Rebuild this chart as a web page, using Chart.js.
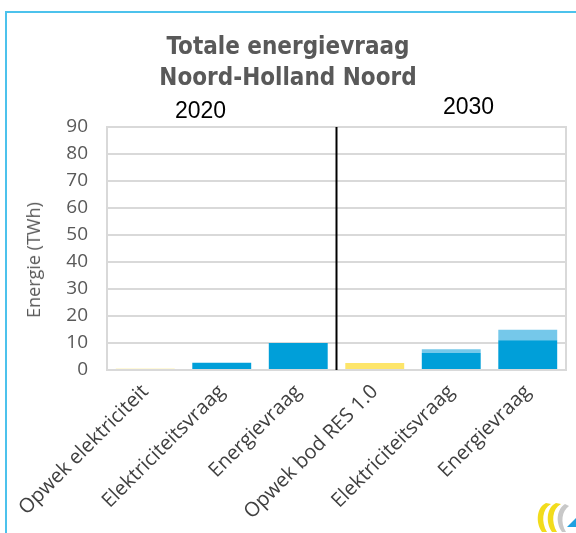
<!DOCTYPE html>
<html>
<head>
<meta charset="utf-8">
<script src="https://cdn.jsdelivr.net/npm/chart.js@4.4.0/dist/chart.umd.min.js"></script>
<style>
html, body { margin: 0; padding: 0; background: #fff; }
#wrap { position: relative; width: 576px; height: 533px; overflow: hidden; }
#frame { position: absolute; left: 5px; top: 11px; width: 620px; height: 620px; border-left: 2px solid #4cc2ec; border-top: 2px solid #4cc2ec; }
.title { position: absolute; left: 0; width: 576px; text-align: center; font-family: "DejaVu Sans Condensed", "DejaVu Sans"; font-weight: bold; font-size: 24px; color: #595959; line-height: 31px; }
.year { position: absolute; font-family: "Liberation Sans"; font-size: 23px; color: #000; line-height: 23px; }
#ytitle { position: absolute; left: 33px; top: 260px; transform: translate(-50%, -50%) rotate(-90deg); white-space: nowrap; font-family: "Open Sans"; font-size: 18px; color: #595959; }
#logo { position: absolute; left: 532px; top: 500px; }
canvas { position: absolute; left: 0; top: 0; }
</style>
</head>
<body>
<div id="wrap">
  <div id="frame"></div>
  <canvas id="chart" width="576" height="533"></canvas>
  <div class="title" id="title" style="top:31px"></div>
  <div class="year" id="year0" style="left:175px; top:99px"></div>
  <div class="year" id="year1" style="left:443px; top:95px"></div>
  <div id="ytitle"></div>
  <svg id="logo" width="44" height="33" viewBox="0 0 44 33">
    <path d="M14 3 C5 7 3 22 10 32 L15 32 C9 22 10 9 19 4 Z" fill="#f2dc1c"/>
    <path d="M24 3 C15 7 13 22 20 32 L25 32 C19 22 20 9 29 4 Z" fill="#f2dc1c"/>
    <path d="M33 4 C25 9 23 22 30 32 L34 32 C28 22 30 11 37 6 Z" fill="#c8c8c8"/>
    <path d="M44 18 L44 27 L35 27 Z" fill="#1ea0e0"/>
  </svg>
</div>
<script>
const titleLines = ['Totale energievraag', 'Noord-Holland Noord']
const yearLabels = ['2020', '2030']
const yAxisTitle = 'Energie (TWh)'
const categories = ['Opwek elektriciteit', 'Elektriciteitsvraag', 'Energievraag', 'Opwek bod RES 1.0', 'Elektriciteitsvraag', 'Energievraag']
const opwek = [0.5, null, null, 2.6, null, null]
const vraag = [null, 2.7, 10, null, 6.3, 11]
const extraVraag = [null, null, null, null, 1.4, 3.9]
const yMin = 0
const yMax = 90
const yStep = 10

document.getElementById('title').innerHTML = titleLines.join('<br>')
document.getElementById('year0').textContent = yearLabels[0]
document.getElementById('year1').textContent = yearLabels[1]
document.getElementById('ytitle').textContent = yAxisTitle

// grey box round the plot + black line between 2020 and 2030
const frameAndDivider = {
    id: 'frameAndDivider',
    beforeDatasetsDraw(chart) {
        const ctx = chart.ctx
        const a = chart.chartArea
        ctx.save()
        ctx.strokeStyle = '#d9d9d9'
        ctx.lineWidth = 2
        ctx.strokeRect(a.left, a.top, a.right - a.left, a.bottom - a.top)
        ctx.restore()
    },
    afterDatasetsDraw(chart) {
        const ctx = chart.ctx
        const a = chart.chartArea
        const x = chart.scales.x
        const xm = (x.getPixelForValue(2) + x.getPixelForValue(3)) / 2
        ctx.save()
        ctx.strokeStyle = '#000'
        ctx.lineWidth = 2
        ctx.beginPath()
        ctx.moveTo(xm, a.top)
        ctx.lineTo(xm, a.bottom)
        ctx.stroke()
        ctx.restore()
    }
}

const ctx = document.getElementById('chart').getContext('2d')
new Chart(ctx, {
    type: 'bar',
    data: {
        labels: categories,
        datasets: [
            { label: 'Opwek', data: opwek, backgroundColor: '#fde56a' },
            { label: 'Vraag', data: vraag, backgroundColor: '#009fd9' },
            { label: 'Extra vraag', data: extraVraag, backgroundColor: '#75c8ea' }
        ]
    },
    options: {
        responsive: false,
        animation: false,
        devicePixelRatio: 1,
        layout: { padding: { top: 127, right: 10, left: 7, bottom: 0 } },
        datasets: { bar: { barPercentage: 0.77, categoryPercentage: 1 } },
        plugins: { legend: { display: false }, tooltip: { enabled: false } },
        scales: {
            x: {
                stacked: true,
                grid: { display: false },
                border: { display: false },
                afterFit: s => { s.height = 163 },
                ticks: {
                    minRotation: 45,
                    maxRotation: 45,
                    padding: 2,
                    color: '#404040',
                    font: { family: 'Open Sans', size: 20 }
                }
            },
            y: {
                stacked: true,
                min: yMin,
                max: yMax,
                afterFit: s => { s.width = 100 },
                grid: { color: '#d9d9d9', lineWidth: 2, drawTicks: false },
                border: { display: false },
                ticks: {
                    stepSize: yStep,
                    padding: 19,
                    color: '#595959',
                    font: { family: 'Open Sans', size: 19 }
                }
            }
        }
    },
    plugins: [frameAndDivider]
})
</script>
</body>
</html>
